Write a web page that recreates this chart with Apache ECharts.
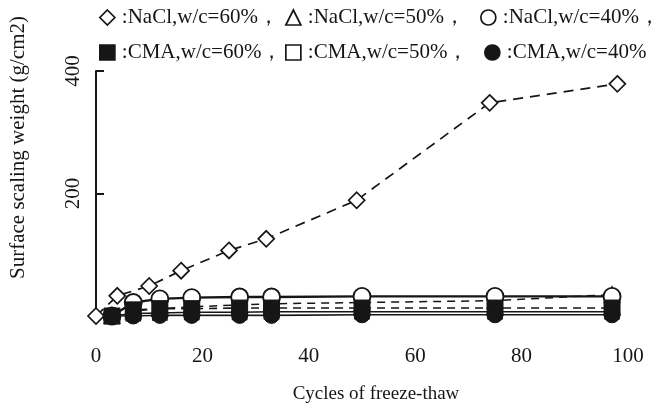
<!DOCTYPE html>
<html>
<head>
<meta charset="utf-8">
<script src="https://cdn.jsdelivr.net/npm/echarts@6/dist/echarts.min.js"></script>
<style>
html,body{margin:0;padding:0;background:#fff;}
#c{width:652px;height:409px;}
</style>
</head>
<body>
<div id="c"></div>
<script>
// ---- data ----
const xTicks = [0, 20, 40, 60, 80, 100];
const yTicks = [0, 200, 400];
const cyclesNaCl60 = [0, 4, 10, 16, 25, 32, 49, 74, 98];
const nacl60 = [0, 33, 49, 74, 107, 126, 189, 348, 379];
const cyclesOther = [3, 7, 12, 18, 27, 33, 50, 75, 97];
const nacl50 = [0, 8, 12, 15, 18, 20, 22, 25, 35];
const nacl40 = [0, 22, 28, 30, 31, 31, 32, 32, 32];
const cma60 = [0, 10, 12, 12, 13, 13, 13, 13, 13];
const cma50 = [0, 4, 5, 6, 6, 7, 7, 7, 7];
const cma40 = [0, 0, 1, 1, 1, 1, 2, 2, 2];
const seriesNames = ['NaCl,w/c=60%', 'NaCl,w/c=50%', 'NaCl,w/c=40%', 'CMA,w/c=60%', 'CMA,w/c=50%', 'CMA,w/c=40%'];

const ink = '#161616';
const font = 'Liberation Serif';
const diamond = 'path://M0,-1L1,0L0,1L-1,0Z';
const pair = (xs, ys) => xs.map((x, i) => [x, ys[i]]);

const chart = echarts.init(document.getElementById('c'), null, {renderer: 'canvas'});

function leg(name, icon, fill, left, top) {
  return {
    data: [name], left: left, top: top, icon: icon,
    itemWidth: 15, itemHeight: 15, itemGap: 0, padding: 0,
    formatter: ':{name}，',
    selectedMode: false,
    itemStyle: {color: fill, borderColor: ink, borderWidth: 1.7},
    textStyle: {fontFamily: font, fontSize: 21, color: ink, padding: [0, 0, 0, 2]}
  };
}

const option = {
  backgroundColor: '#ffffff',
  animation: false,
  legend: [
    leg(seriesNames[0], diamond, '#fff', 99, 7),
    leg(seriesNames[1], 'triangle', '#fff', 285, 7),
    leg(seriesNames[2], 'circle', '#fff', 480, 7),
    leg(seriesNames[3], 'rect', ink, 99, 42),
    leg(seriesNames[4], 'rect', '#fff', 285, 42),
    leg(seriesNames[5], 'circle', ink, 484, 42)
  ],
  grid: {left: 90, right: 24, top: 71, bottom: 93},
  xAxis: {
    type: 'value', min: 0, max: 100, interval: 20,
    name: 'Cycles of freeze-thaw', nameLocation: 'middle', nameGap: 69,
    nameTextStyle: {fontFamily: font, fontSize: 19, color: ink, padding: [0, 0, 0, 28]},
    axisLine: {show: false}, axisTick: {show: false}, splitLine: {show: false},
    axisLabel: {margin: 30, fontFamily: font, fontSize: 21, color: ink}
  },
  yAxis: {
    type: 'value', min: 0, max: 400, interval: 200,
    name: 'Surface scaling weight (g/cm2)', nameLocation: 'middle', nameGap: 67, nameRotate: 90,
    nameTextStyle: {fontFamily: font, fontSize: 21, color: ink, padding: [0, 0, 0, 92]},
    axisLine: {show: true, lineStyle: {color: ink, width: 2}},
    axisTick: {show: true, inside: true, length: 8, lineStyle: {color: ink, width: 2},
               customValues: [200, 400]},
    splitLine: {show: false},
    axisLabel: {rotate: 90, margin: 12, fontFamily: font, fontSize: 21, color: ink,
                formatter: v => (v === 0 ? '' : String(v))}
  },
  series: [
    {name: seriesNames[0], type: 'line', data: pair(cyclesNaCl60, nacl60), z: 2,
     symbol: diamond, symbolSize: 16,
     itemStyle: {color: '#fff', borderColor: ink, borderWidth: 1.7},
     lineStyle: {color: ink, width: 1.7, type: [10, 7]}},
    {name: seriesNames[1], type: 'line', data: pair(cyclesOther, nacl50), z: 2,
     symbol: 'triangle', symbolSize: 15,
     itemStyle: {color: '#fff', borderColor: ink, borderWidth: 1.7},
     lineStyle: {color: ink, width: 1.5, type: [8, 6]}},
    {name: seriesNames[2], type: 'line', data: pair(cyclesOther, nacl40), z: 2,
     symbol: 'circle', symbolSize: 17,
     itemStyle: {color: '#fff', borderColor: ink, borderWidth: 1.9},
     lineStyle: {color: ink, width: 2.4, type: 'solid'}},
    {name: seriesNames[4], type: 'line', data: pair(cyclesOther, cma50), z: 3,
     symbol: 'rect', symbolSize: 14,
     itemStyle: {color: '#fff', borderColor: ink, borderWidth: 1.7},
     lineStyle: {color: ink, width: 1.5, type: 'solid'}},
    {name: seriesNames[3], type: 'line', data: pair(cyclesOther, cma60), z: 4,
     symbol: 'rect', symbolSize: 16,
     itemStyle: {color: ink, borderColor: ink, borderWidth: 1},
     lineStyle: {color: ink, width: 1.6, type: [8, 6]}},
    {name: seriesNames[5], type: 'line', data: pair(cyclesOther, cma40), z: 4,
     symbol: 'circle', symbolSize: 16,
     itemStyle: {color: ink, borderColor: ink, borderWidth: 1},
     lineStyle: {color: ink, width: 1.6, type: 'solid'}}
  ]
};
chart.setOption(option);
</script>
</body>
</html>
